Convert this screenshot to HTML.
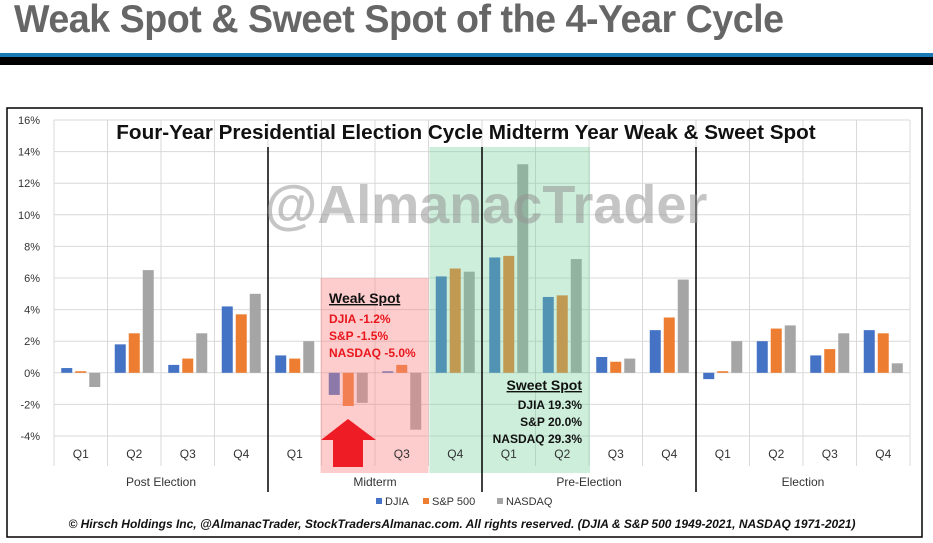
<!DOCTYPE html>
<html><head><meta charset="utf-8"><style>
body{margin:0;width:933px;height:543px;background:#fff;overflow:hidden;font-family:"Liberation Sans",sans-serif}
</style></head><body>
<div style="position:absolute;left:14px;top:-2px;font:bold 39px 'Liberation Sans',sans-serif;color:#666;letter-spacing:-0.5px;transform:scaleX(0.965);transform-origin:left;white-space:nowrap">Weak Spot &amp; Sweet Spot of the 4-Year Cycle</div>
<div style="position:absolute;left:0;top:53px;width:933px;height:4px;background:#1a7ab5"></div>
<div style="position:absolute;left:0;top:57px;width:933px;height:8px;background:#000"></div>
<svg id="chart" width="933" height="543" style="position:absolute;left:0;top:0" font-family="Liberation Sans, sans-serif"></svg>
<script>
const categories=["Q1","Q2","Q3","Q4","Q1","Q2","Q3","Q4","Q1","Q2","Q3","Q4","Q1","Q2","Q3","Q4"];
const groups=["Post Election","Midterm","Pre-Election","Election"];
const djia=[0.3,1.8,0.5,4.2,1.1,-1.4,0.1,6.1,7.3,4.8,1.0,2.7,-0.4,2.0,1.1,2.7];
const sp500=[0.1,2.5,0.9,3.7,0.9,-2.1,0.5,6.6,7.4,4.9,0.7,3.5,0.1,2.8,1.5,2.5];
const nasdaq=[-0.9,6.5,2.5,5.0,2.0,-1.9,-3.6,6.4,13.2,7.2,0.9,5.9,2.0,3.0,2.5,0.6];
const yTicks=[-4,-2,0,2,4,6,8,10,12,14,16];
const seriesNames=["DJIA","S&P 500","NASDAQ"];
const colors=["#4472C4","#ED7D31","#A5A5A5"];
const svg=document.getElementById('chart');
const NS='http://www.w3.org/2000/svg';
const L=54,R=910,T=120,B=436,yMin=-4,yMax=16;
const y=v=>B-(v-yMin)/(yMax-yMin)*(B-T);
const slot=(R-L)/categories.length;
const x=i=>L+i*slot;
function mk(t,a,parent){const e=document.createElementNS(NS,t);for(const k in a)e.setAttribute(k,a[k]);(parent||svg).appendChild(e);return e;}
let e;
e=mk('rect',{x:7,y:108,width:915,height:429,fill:'#fff',stroke:'#000','stroke-width':1.5});


yTicks.forEach(t=>{
 e=mk('line',{x1:L,x2:R,y1:y(t),y2:y(t),stroke:'#d9d9d9'});
 
 
 e=mk('text',{x:40,y:y(t)+4,'text-anchor':'end','font-size':11,fill:'#333'});e.textContent=t+'%';
 
 
});
for(let i=0;i<=categories.length;i++){
 e=mk('line',{x1:x(i),x2:x(i),y1:T,y2:B+30,stroke:'#d9d9d9'});
 
 
}
const bw=11,gap=3;
[djia,sp500,nasdaq].forEach((s,si)=>{
 s.forEach((v,i)=>{
  const cx=x(i)+slot/2+(si-1)*(bw+gap);
  e=mk('rect',{x:cx-bw/2,y:Math.min(y(v),y(0)),width:bw,height:Math.abs(y(v)-y(0)),fill:colors[si]});
  
  
 });
});
e=mk('rect',{x:x(5)-1,y:278,width:slot*2+1,height:195,fill:'rgba(250,130,130,0.4)'});


e=mk('rect',{x:x(7)+1,y:147,width:slot*3,height:326,fill:'rgba(110,205,150,0.35)'});


categories.forEach((c,i)=>{
 e=mk('text',{x:x(i)+slot/2,y:458,'text-anchor':'middle','font-size':12,fill:'#333'});e.textContent=c;
 
 
});
groups.forEach((g,i)=>{
 e=mk('text',{x:x(i*4)+slot*2,y:486,'text-anchor':'middle','font-size':12,fill:'#333'});e.textContent=g;
 
 
 if(i>0){e=mk('line',{x1:x(i*4),x2:x(i*4),y1:147,y2:492,stroke:'#000','stroke-width':1.5});
 
 }
});
e=mk('text',{x:466,y:139,'text-anchor':'middle','font-size':20.7,'font-weight':'bold',fill:'#111'});e.textContent='Four-Year Presidential Election Cycle Midterm Year Weak & Sweet Spot';


e=mk('text',{x:486,y:223,'text-anchor':'middle','font-size':54,'font-weight':'bold',fill:'rgba(150,150,150,0.55)'});e.textContent='@AlmanacTrader';


e=mk('text',{x:329,y:303,'font-size':14,'font-weight':'bold','text-decoration':'underline',fill:'#111'});e.textContent='Weak Spot';


["DJIA -1.2%","S&P -1.5%","NASDAQ -5.0%"].forEach((t,k)=>{
 e=mk('text',{x:329,y:323+k*17,'font-size':12,'font-weight':'bold',fill:'#e8161c'});e.textContent=t;
 
 
});
e=mk('text',{x:582,y:390,'text-anchor':'end','font-size':14,'font-weight':'bold','text-decoration':'underline',fill:'#111'});e.textContent='Sweet Spot';


["DJIA 19.3%","S&P 20.0%","NASDAQ 29.3%"].forEach((t,k)=>{
 e=mk('text',{x:582,y:409+k*17,'text-anchor':'end','font-size':12,'font-weight':'bold',fill:'#111'});e.textContent=t;
 
 
});
e=mk('polygon',{points:'348,419 376,440 363,440 363,467 333,467 333,440 321,440',fill:'#ee1c24'});


const lx=[376,423,497];
seriesNames.forEach((n,k)=>{
 e=mk('rect',{x:lx[k],y:498,width:6,height:6,fill:colors[k]});
 
 
 e=mk('text',{x:lx[k]+9,y:505,'font-size':11,fill:'#333'});e.textContent=n;
 
 
});
e=mk('text',{x:462,y:528,'text-anchor':'middle','font-size':12,'font-weight':'bold','font-style':'italic',fill:'#111'});e.textContent='© Hirsch Holdings Inc, @AlmanacTrader,  StockTradersAlmanac.com.  All rights reserved.   (DJIA & S&P 500 1949-2021,  NASDAQ 1971-2021)';


</script>
</body></html>
